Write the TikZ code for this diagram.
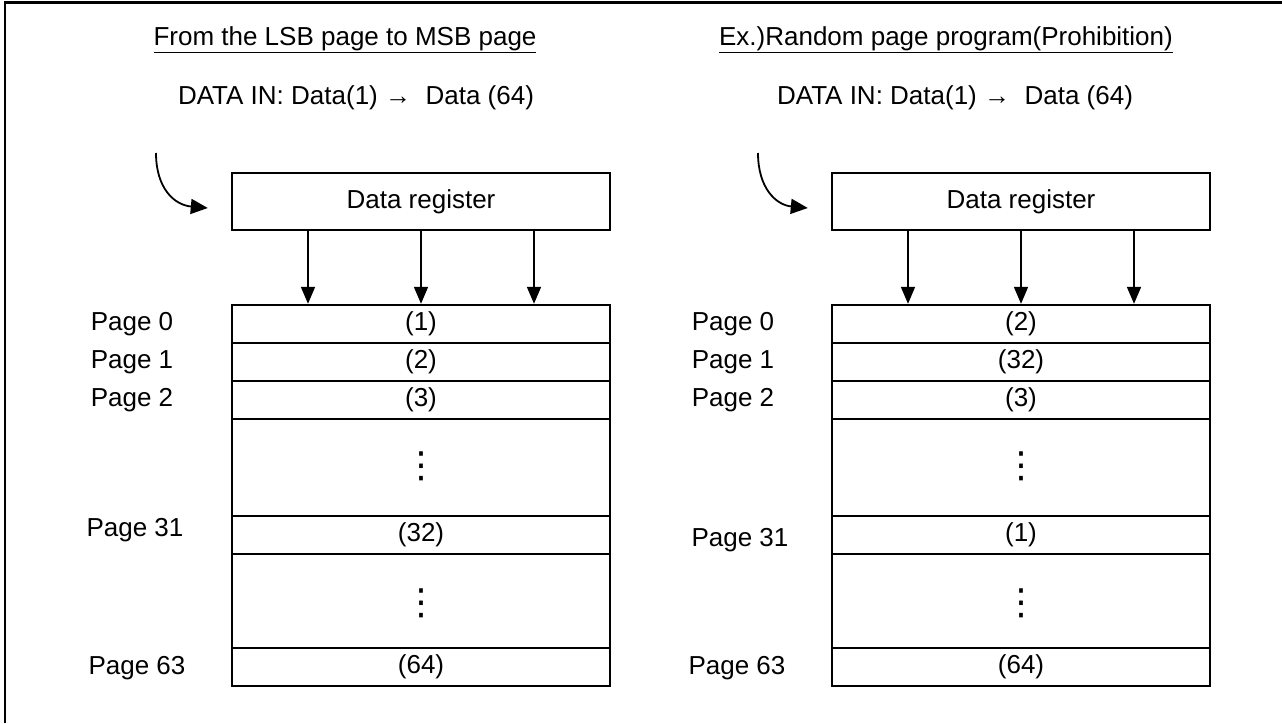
\documentclass[tikz,border=0pt]{standalone}
\usepackage{fontspec}
\setmainfont{Liberation Sans}
\newfontfamily\dvfont{DejaVu Sans}
\usetikzlibrary{arrows.meta}
\begin{document}
\begin{tikzpicture}[x=1pt,y=-1pt,
  txt/.style={inner sep=0pt,font=\fontsize{26}{30}\selectfont},
  lbl/.style={txt},
  regbox/.style={draw,line width=2.4pt,minimum width=378pt,minimum height=57pt,inner sep=0pt,font=\fontsize{26}{30}\selectfont},
  rowbox/.style={draw,line width=2.4pt,minimum width=378pt,minimum height=38pt,inner sep=0pt,font=\fontsize{26}{30}\selectfont},
  bigrow/.style={rowbox,minimum height=#1},
  vdots/.style={inner sep=0pt,font=\dvfont\fontsize{36}{40}\selectfont},
  arr/.style={line width=1.8pt,-{Triangle[length=17pt,width=14pt]}},
  carr/.style={line width=1.8pt,-{Triangle[length=17pt,width=15pt]}}
]
\useasboundingbox (0,0) rectangle (1282,723);
% frame
\draw[line width=2.6pt] (5,723) -- (5,2.5) -- (1282,2.5);

% ---------- left panel ----------
\node[txt] (tL) at (345,40) {\underline{From the LSB page to MSB page}};
\node[txt] (dL) at (356,98) {DATA IN: Data(1) → \ Data (64)};
\node[regbox] (rL) at (421,201.5) {Data register};
\node[rowbox] (L0) at (421,324) {(1)};
\node[rowbox] (L1) at (421,362) {(2)};
\node[rowbox] (L2) at (421,400) {(3)};
\node[bigrow=97pt] (L3) at (421,467.5) {};
\node[vdots] (L3d) at (421,466) {⋮};
\node[rowbox] (L4) at (421,535) {(32)};
\node[bigrow=94pt] (L5) at (421,601) {};
\node[vdots] (L5d) at (421,603) {⋮};
\node[rowbox] (L6) at (421,667) {(64)};
\node[lbl] (pL0) at (132,324) {Page 0};
\node[lbl] (pL1) at (132,362) {Page 1};
\node[lbl] (pL2) at (132,400) {Page 2};
\node[lbl] (pL31) at (135,530) {Page 31};
\node[lbl] (pL63) at (137,668) {Page 63};
\coordinate (cL) at (156,153);
\draw[carr] (cL) .. controls (156,188) and (174,205) .. ([shift={(-23pt,-6.5pt)}]rL.west);
\draw[arr] ([xshift=-113pt]rL.south) -- ([xshift=-113pt]L0.north);
\draw[arr] (rL.south) -- (L0.north);
\draw[arr] ([xshift=113pt]rL.south) -- ([xshift=113pt]L0.north);

% ---------- right panel ----------
\node[txt] (tR) at (946,40) {\underline{Ex.)Random page program(Prohibition)}};
\node[txt] (dR) at (955,98) {DATA IN: Data(1) → \ Data (64)};
\node[regbox] (rR) at (1021,201.5) {Data register};
\node[rowbox] (R0) at (1021,324) {(2)};
\node[rowbox] (R1) at (1021,362) {(32)};
\node[rowbox] (R2) at (1021,400) {(3)};
\node[bigrow=97pt] (R3) at (1021,467.5) {};
\node[vdots] (R3d) at (1021,466) {⋮};
\node[rowbox] (R4) at (1021,535) {(1)};
\node[bigrow=94pt] (R5) at (1021,601) {};
\node[vdots] (R5d) at (1021,603) {⋮};
\node[rowbox] (R6) at (1021,667) {(64)};
\node[lbl] (pR0) at (733,324) {Page 0};
\node[lbl] (pR1) at (733,362) {Page 1};
\node[lbl] (pR2) at (733,400) {Page 2};
\node[lbl] (pR31) at (740,540) {Page 31};
\node[lbl] (pR63) at (737,668) {Page 63};
\coordinate (cR) at (758,153);
\draw[carr] (cR) .. controls (758,188) and (776,205) .. ([shift={(-23pt,-6.5pt)}]rR.west);
\draw[arr] ([xshift=-113pt]rR.south) -- ([xshift=-113pt]R0.north);
\draw[arr] (rR.south) -- (R0.north);
\draw[arr] ([xshift=113pt]rR.south) -- ([xshift=113pt]R0.north);
\end{tikzpicture}
\end{document}
